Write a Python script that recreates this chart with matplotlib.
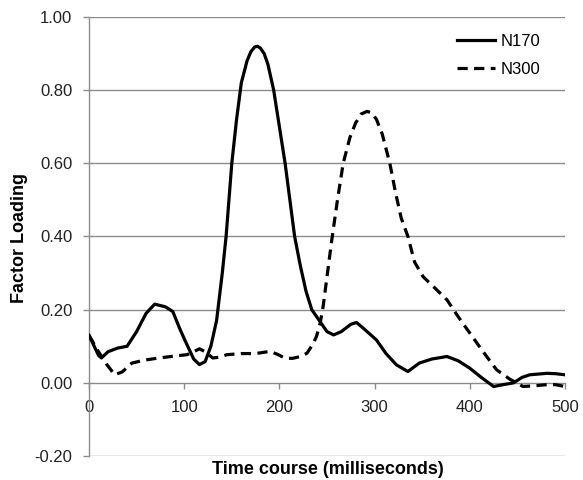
import matplotlib
matplotlib.use("Agg")
import matplotlib.pyplot as plt

plt.rcParams["font.family"] = ["Liberation Sans", "DejaVu Sans"]

# N170 factor loading (solid line)
n170_t = [0, 10, 13, 20, 30, 40, 50, 60, 69, 80, 88, 95, 101, 110, 116, 122,
          128, 134, 140, 144, 150, 155, 160, 166, 170, 174, 177, 180, 184, 188,
          194, 200, 206, 211, 216, 222, 228, 234, 242, 250, 257, 265, 275, 281,
          290, 302, 312, 323, 335, 347, 360, 376, 388, 400, 412, 425, 435, 446,
          455, 463, 481, 490, 500]
n170_v = [0.13, 0.075, 0.068, 0.085, 0.095, 0.10, 0.14, 0.19, 0.215, 0.208,
          0.195, 0.15, 0.115, 0.065, 0.05, 0.058, 0.10, 0.17, 0.30, 0.40, 0.60,
          0.72, 0.82, 0.88, 0.905, 0.918, 0.92, 0.915, 0.90, 0.87, 0.80, 0.70,
          0.60, 0.50, 0.40, 0.32, 0.25, 0.20, 0.17, 0.14, 0.131, 0.14, 0.16,
          0.165, 0.145, 0.117, 0.08, 0.049, 0.031, 0.054, 0.065, 0.072, 0.06,
          0.04, 0.015, -0.01, -0.005, 0.0, 0.015, 0.022, 0.026, 0.025, 0.022]

# N300 factor loading (dashed line)
n300_t = [0, 10, 19, 27, 35, 45, 58, 71, 86, 103, 110, 116, 122, 130, 137, 145,
          160, 175, 190, 198, 206, 214, 222, 229, 235, 239, 243, 246, 250, 255,
          261, 267, 274, 280, 286, 292, 297, 302, 308, 316, 322, 328, 335, 342,
          351, 363, 376, 388, 400, 414, 428, 442, 456, 468, 481, 490, 500]
n300_v = [0.13, 0.085, 0.049, 0.022, 0.03, 0.054, 0.062, 0.067, 0.072, 0.077,
          0.085, 0.093, 0.085, 0.068, 0.07, 0.077, 0.08, 0.08, 0.086, 0.078,
          0.067, 0.067, 0.072, 0.081, 0.105, 0.127, 0.165, 0.21, 0.29, 0.39,
          0.50, 0.60, 0.67, 0.71, 0.735, 0.742, 0.738, 0.72, 0.68, 0.60, 0.52,
          0.45, 0.40, 0.33, 0.29, 0.26, 0.227, 0.18, 0.136, 0.085, 0.036, 0.01,
          -0.01, -0.008, -0.005, -0.005, -0.01]

x_ticks = [0, 100, 200, 300, 400, 500]
y_ticks = [-0.2, 0.0, 0.2, 0.4, 0.6, 0.8, 1.0]

fig = plt.figure(figsize=(5.83, 4.8), dpi=100)
ax = fig.add_axes([89 / 583, 1 - 456 / 480, (565 - 89) / 583, (456 - 17) / 480])

grey = "#8c8c8c"
for yv in y_ticks:
    if yv != 0.0:
        ax.axhline(yv, color=grey, lw=1.0, zorder=1)

ax.plot(n170_t, n170_v, color="black", lw=2.3, label="N170", zorder=3)
ax.plot(n300_t, n300_v, color="black", lw=2.3, ls=(0, (3.2, 2.0)),
        label="N300", zorder=3)

ax.set_xlim(0, 500)
ax.set_ylim(-0.2, 1.0)
ax.set_xticks(x_ticks)
ax.set_yticks(y_ticks)
ax.set_yticklabels([f"{v:.2f}" for v in y_ticks])

for s in ["top", "right"]:
    ax.spines[s].set_visible(False)
ax.spines["bottom"].set_position(("data", 0))
ax.spines["bottom"].set_color(grey)
ax.spines["left"].set_color(grey)
ax.spines["bottom"].set_linewidth(1.0)
ax.spines["left"].set_linewidth(1.0)

ax.tick_params(axis="x", direction="out", length=4, width=1, color=grey,
               pad=8, labelsize=12, labelcolor="#222222")
ax.tick_params(axis="y", direction="out", length=4, width=1, color=grey,
               pad=8, labelsize=12, labelcolor="#222222")

fig.text(20 / 583, 1 - 238 / 480, "Factor Loading", rotation=90, ha="center",
         va="center", fontsize=13, fontweight="bold")
fig.text(328 / 583, 1 - 470 / 480, "Time course (milliseconds)", ha="center",
         va="center", fontsize=13, fontweight="bold")

ax.legend(loc="upper left", bbox_to_anchor=(457 / 583, 1 - 34 / 480),
          bbox_transform=fig.transFigure, frameon=False, fontsize=12,
          handlelength=2.3, handletextpad=0.3, labelspacing=0.75,
          borderpad=0, borderaxespad=0)

fig.savefig("out.png", dpi=100)
